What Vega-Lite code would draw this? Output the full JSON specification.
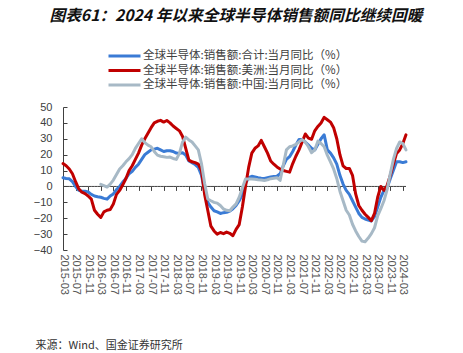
{
  "$schema": "https://vega.github.io/schema/vega-lite/v6.json",
  "autosize": {"type": "none"},
  "width": 343,
  "height": 143,
  "padding": {"left": 63, "top": 107, "right": 57, "bottom": 103},
  "background": "white",
  "title": {
    "text": "图表61：2024 年以来全球半导体销售额同比继续回暖",
    "anchor": "start",
    "frame": "group",
    "dx": -13.5,
    "offset": 25,
    "font": "Noto Sans CJK SC",
    "fontSize": 15.7,
    "fontWeight": "bold",
    "fontStyle": "italic",
    "color": "#111111"
  },
  "data": {
    "values": [
      {"date": "2015-03", "合计": 5.5, "美洲": 14.4, "中国": null},
      {"date": "2015-04", "合计": 5, "美洲": 13, "中国": null},
      {"date": "2015-05", "合计": 4.8, "美洲": 11, "中国": null},
      {"date": "2015-06", "合计": 3, "美洲": 8, "中国": null},
      {"date": "2015-07", "合计": 0, "美洲": 3, "中国": null},
      {"date": "2015-08", "合计": -2.5, "美洲": -1.5, "中国": null},
      {"date": "2015-09", "合计": -3, "美洲": -3.6, "中国": null},
      {"date": "2015-10", "合计": -3, "美洲": -4.5, "中国": null},
      {"date": "2015-11", "合计": -3.5, "美洲": -6, "中国": null},
      {"date": "2015-12", "合计": -5, "美洲": -8, "中国": null},
      {"date": "2016-01", "合计": -6, "美洲": -15, "中国": null},
      {"date": "2016-02", "合计": -6.5, "美洲": -17.5, "中国": null},
      {"date": "2016-03", "合计": -6.8, "美洲": -19.5, "中国": 1.3},
      {"date": "2016-04", "合计": -7.5, "美洲": -16, "中国": 0.5},
      {"date": "2016-05", "合计": -8, "美洲": -15, "中国": -0.4},
      {"date": "2016-06", "合计": -6, "美洲": -14.5, "中国": 1.5},
      {"date": "2016-07", "合计": -4.7, "美洲": -11, "中国": 4},
      {"date": "2016-08", "合计": -2, "美洲": -5, "中国": 7.5},
      {"date": "2016-09", "合计": 0, "美洲": -2.5, "中国": 11},
      {"date": "2016-10", "合计": 2.8, "美洲": 1, "中国": 13},
      {"date": "2016-11", "合计": 5, "美洲": 5, "中国": 15.5},
      {"date": "2016-12", "合计": 8, "美洲": 10, "中国": 17.5},
      {"date": "2017-01", "合计": 9.5, "美洲": 13, "中国": 20},
      {"date": "2017-02", "合计": 12, "美洲": 17, "中国": 24},
      {"date": "2017-03", "合计": 14, "美洲": 21, "中国": 27},
      {"date": "2017-04", "合计": 17, "美洲": 26, "中国": 30},
      {"date": "2017-05", "合计": 20, "美洲": 30, "中国": 27.6},
      {"date": "2017-06", "合计": 21.5, "美洲": 33.5, "中国": 26},
      {"date": "2017-07", "合计": 23, "美洲": 37, "中国": 25},
      {"date": "2017-08", "合计": 23.5, "美洲": 40, "中国": 22},
      {"date": "2017-09", "合计": 24, "美洲": 41, "中国": 19.7},
      {"date": "2017-10", "合计": 23, "美洲": 41.6, "中国": 19},
      {"date": "2017-11", "合计": 22, "美洲": 40.5, "中国": 18.7},
      {"date": "2017-12", "合计": 22.5, "美洲": 41.5, "中国": 18.3},
      {"date": "2018-01", "合计": 22.5, "美洲": 40, "中国": 18.5},
      {"date": "2018-02", "合计": 22, "美洲": 38, "中国": 17.6},
      {"date": "2018-03", "合计": 21, "美洲": 36.5, "中国": 17},
      {"date": "2018-04", "合计": 20.8, "美洲": 35, "中国": 20.8},
      {"date": "2018-05", "合计": 21.2, "美洲": 31.5, "中国": 28},
      {"date": "2018-06", "合计": 19.7, "美洲": 24, "中国": 31},
      {"date": "2018-07", "合计": 16, "美洲": 16.6, "中国": 29.3},
      {"date": "2018-08", "合计": 15, "美洲": 15.5, "中国": 28},
      {"date": "2018-09", "合计": 13.8, "美洲": 15, "中国": 25.5},
      {"date": "2018-10", "合计": 12, "美洲": 14, "中国": 23},
      {"date": "2018-11", "合计": 7, "美洲": 10, "中国": 14.4},
      {"date": "2018-12", "合计": -3, "美洲": -5, "中国": 2},
      {"date": "2019-01", "合计": -10, "美洲": -15, "中国": -7.9},
      {"date": "2019-02", "合计": -13, "美洲": -25, "中国": -9},
      {"date": "2019-03", "合计": -15.3, "美洲": -28, "中国": -10},
      {"date": "2019-04", "合计": -16, "美洲": -30, "中国": -10.5},
      {"date": "2019-05", "合计": -17, "美洲": -29, "中国": -12},
      {"date": "2019-06", "合计": -16.5, "美洲": -29.7, "中国": -14.2},
      {"date": "2019-07", "合计": -16.3, "美洲": -28.7, "中国": -15},
      {"date": "2019-08", "合计": -15.5, "美洲": -29.5, "中国": -15.3},
      {"date": "2019-09", "合计": -14, "美洲": -31, "中国": -13},
      {"date": "2019-10", "合计": -12, "美洲": -27, "中国": -11},
      {"date": "2019-11", "合计": -9, "美洲": -24, "中国": -6.8},
      {"date": "2019-12", "合计": -5, "美洲": -13, "中国": -1},
      {"date": "2020-01", "合计": 2, "美洲": 0, "中国": 4.7},
      {"date": "2020-02", "合计": 5.5, "美洲": 12, "中国": 4.7},
      {"date": "2020-03", "合计": 6.4, "美洲": 21, "中国": 4.7},
      {"date": "2020-04", "合计": 6, "美洲": 24, "中国": 4.5},
      {"date": "2020-05", "合计": 5.5, "美洲": 25.5, "中国": 4.2},
      {"date": "2020-06", "合计": 5.2, "美洲": 29, "中国": 4},
      {"date": "2020-07", "合计": 5, "美洲": 25, "中国": 3.8},
      {"date": "2020-08", "合计": 5.5, "美洲": 21, "中国": 4.2},
      {"date": "2020-09", "合计": 6, "美洲": 16, "中国": 4.9},
      {"date": "2020-10", "合计": 6.3, "美洲": 14, "中国": 5.2},
      {"date": "2020-11", "合计": 6.4, "美洲": 12.3, "中国": 5.5},
      {"date": "2020-12", "合计": 8, "美洲": 11, "中国": 3.8},
      {"date": "2021-01", "合计": 13, "美洲": 10, "中国": 13.4},
      {"date": "2021-02", "合计": 17, "美洲": 9.5, "中国": 23},
      {"date": "2021-03", "合计": 18.7, "美洲": 9, "中国": 25},
      {"date": "2021-04", "合计": 22, "美洲": 14.4, "中国": 25.5},
      {"date": "2021-05", "合计": 26, "美洲": 19, "中国": 26.5},
      {"date": "2021-06", "合计": 29.5, "美洲": 23, "中国": 28},
      {"date": "2021-07", "合计": 29.5, "美洲": 28, "中国": 29.5},
      {"date": "2021-08", "合计": 28, "美洲": 33, "中国": 28},
      {"date": "2021-09", "合计": 26, "美洲": 30.4, "中国": 25},
      {"date": "2021-10", "合计": 24, "美洲": 29.7, "中国": 21.2},
      {"date": "2021-11", "合计": 23, "美洲": 35, "中国": 23},
      {"date": "2021-12", "合计": 26.5, "美洲": 37.8, "中国": 28.5},
      {"date": "2022-01", "合计": 30, "美洲": 40, "中国": 27},
      {"date": "2022-02", "合计": 32.5, "美洲": 43.5, "中国": 25},
      {"date": "2022-03", "合计": 23, "美洲": 42, "中国": 19.7},
      {"date": "2022-04", "合计": 21, "美洲": 40.5, "中国": 15.5},
      {"date": "2022-05", "合计": 18, "美洲": 37, "中国": 11},
      {"date": "2022-06", "合计": 14, "美洲": 30, "中国": 5},
      {"date": "2022-07", "合计": 7, "美洲": 20, "中国": -3},
      {"date": "2022-08", "合计": 1.5, "美洲": 13, "中国": -9},
      {"date": "2022-09", "合计": -2.5, "美洲": 11.3, "中国": -15},
      {"date": "2022-10", "合计": -5, "美洲": 11.3, "中国": -18},
      {"date": "2022-11", "合计": -9, "美洲": 7, "中国": -23.8},
      {"date": "2022-12", "合计": -13, "美洲": -4.7, "中国": -28},
      {"date": "2023-01", "合计": -17, "美洲": -12, "中国": -31.5},
      {"date": "2023-02", "合计": -19.5, "美洲": -15, "中国": -34.4},
      {"date": "2023-03", "合计": -20.5, "美洲": -17.5, "中国": -34.8},
      {"date": "2023-04", "合计": -21.2, "美洲": -19.5, "中国": -32.5},
      {"date": "2023-05", "合计": -21.7, "美洲": -21.5, "中国": -29.7},
      {"date": "2023-06", "合计": -19, "美洲": -17, "中国": -26},
      {"date": "2023-07", "合计": -13, "美洲": -6.8, "中国": -18.5},
      {"date": "2023-08", "合计": -6.8, "美洲": 0, "中国": -14},
      {"date": "2023-09", "合计": -2.5, "美洲": -2.5, "中国": -9},
      {"date": "2023-10", "合计": -0.8, "美洲": 0.6, "中国": -2},
      {"date": "2023-11", "合计": 4.9, "美洲": 7, "中国": 8},
      {"date": "2023-12", "合计": 10.2, "美洲": 14, "中国": 17},
      {"date": "2024-01", "合计": 15.5, "美洲": 20.8, "中国": 24},
      {"date": "2024-02", "合计": 15.5, "美洲": 23, "中国": 28},
      {"date": "2024-03", "合计": 15, "美洲": 27, "中国": 27},
      {"date": "2024-04", "合计": 15.5, "美洲": 32.5, "中国": 23}
    ]
  },
  "resolve": {"axis": {"x": "independent"}},
  "layer": [
    {
      "mark": {"type": "line", "color": "#404040", "strokeWidth": 1},
      "encoding": {
        "x": {
          "field": "date",
          "type": "ordinal",
          "sort": null,
          "scale": {"type": "point", "padding": 0},
          "axis": {
            "orient": "bottom",
            "offset": -63.6,
            "labels": false,
            "domain": false,
            "ticks": true,
            "tickSize": 4,
            "tickColor": "#404040",
            "title": null,
            "values": ["2015-03","2015-07","2015-11","2016-03","2016-07","2016-11","2017-03","2017-07","2017-11","2018-03","2018-07","2018-11","2019-03","2019-07","2019-11","2020-03","2020-07","2020-11","2021-03","2021-07","2021-11","2022-03","2022-07","2022-11","2023-03","2023-07","2023-11","2024-03"]
          }
        },
        "y": {
          "datum": 0,
          "type": "quantitative",
          "scale": {"domain": [-40, 50], "nice": false},
          "axis": {
            "title": null,
            "values": [-40, -30, -20, -10, 0, 10, 20, 30, 40, 50],
            "labelOverlap": false,
            "grid": false,
            "tickSize": -4,
            "labelPadding": 15,
            "labelFont": "Liberation Sans",
            "labelFontSize": 11,
            "labelColor": "#404040",
            "domainColor": "#404040",
            "tickColor": "#404040"
          }
        }
      }
    },
    {
      "transform": [{"fold": ["合计", "美洲", "中国"], "as": ["series", "value"]}],
      "mark": {"type": "line", "strokeWidth": 3, "strokeJoin": "round", "strokeCap": "round"},
      "encoding": {
        "x": {
          "field": "date",
          "type": "ordinal",
          "sort": null,
          "scale": {"type": "point", "padding": 0},
          "axis": {
            "orient": "bottom",
            "domain": false,
            "ticks": false,
            "labelAngle": 90,
            "labelPadding": 4,
            "labelFont": "Liberation Sans",
            "labelFontSize": 11,
            "labelColor": "#555555",
            "values": ["2015-03","2015-07","2015-11","2016-03","2016-07","2016-11","2017-03","2017-07","2017-11","2018-03","2018-07","2018-11","2019-03","2019-07","2019-11","2020-03","2020-07","2020-11","2021-03","2021-07","2021-11","2022-03","2022-07","2022-11","2023-03","2023-07","2023-11","2024-03"],
            "title": "来源：Wind、国金证券研究所",
            "titleFont": "Noto Sans CJK SC",
            "titleFontSize": 11,
            "titleFontWeight": "normal",
            "titleColor": "#333333",
            "titleAnchor": "start",
            "titleAlign": "left",
            "titleBaseline": "middle",
            "titleAngle": 0,
            "titleX": -28,
            "titleY": 95
          }
        },
        "y": {
          "field": "value",
          "type": "quantitative",
          "scale": {"domain": [-40, 50], "nice": false},
          "axis": {
            "title": null,
            "values": [-40, -30, -20, -10, 0, 10, 20, 30, 40, 50],
            "labelOverlap": false,
            "grid": false,
            "tickSize": -4,
            "labelPadding": 15,
            "labelFont": "Liberation Sans",
            "labelFontSize": 11,
            "labelColor": "#404040",
            "domainColor": "#404040",
            "tickColor": "#404040"
          }
        },
        "color": {
          "field": "series",
          "type": "nominal",
          "scale": {"domain": ["合计", "美洲", "中国"], "range": ["#3A7BD5", "#C00000", "#A7B9C6"]},
          "legend": {
            "title": null,
            "orient": "none",
            "legendX": 66,
            "legendY": -57.5,
            "direction": "vertical",
            "padding": 0,
            "symbolType": "M-5.4,0H1",
            "symbolSize": 100,
            "symbolStrokeWidth": 3,
            "labelOffset": 1,
            "rowPadding": 1.5,
            "labelLimit": 0,
            "labelFont": "Noto Sans CJK SC",
            "labelFontSize": 11.5,
            "labelColor": "#404040",
            "labelExpr": "'全球半导体:销售额:' + datum.label + ':当月同比（%）'"
          }
        }
      }
    }
  ],
  "config": {"view": {"stroke": null}}
}
